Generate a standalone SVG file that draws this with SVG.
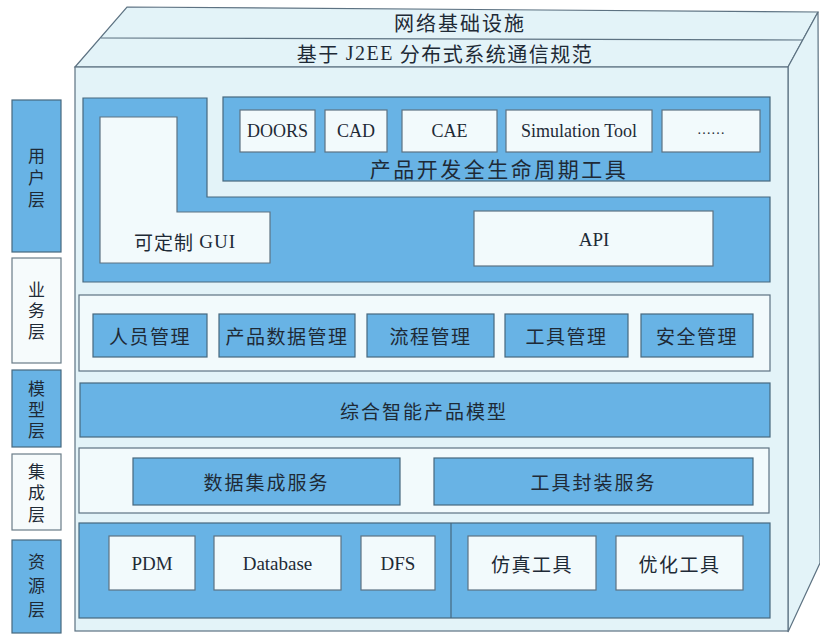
<svg xmlns="http://www.w3.org/2000/svg" width="820" height="635" viewBox="0 0 820 635">
<style>
.bg{fill:#ffffff}
.face{fill:#e3f3f8;stroke:#5d7282;stroke-width:1.2}
.blue{fill:#68b3e5;stroke:#46687e;stroke-width:1.2}
.white{fill:#f2fafc;stroke:#5d7282;stroke-width:1.2}
.lbw{fill:#f6fbfc;stroke:#6a7c88;stroke-width:1.2}
.t{font-family:"Liberation Serif","Noto Sans CJK SC",serif;fill:#1e2a36;text-anchor:middle;dominant-baseline:central}
.c{font-family:"Noto Sans CJK SC","Liberation Serif",serif;fill:#1e2a36;text-anchor:middle;dominant-baseline:central}
.v{font-family:"Noto Sans CJK SC",serif;fill:#1e2a36;text-anchor:middle;writing-mode:vertical-rl;font-size:17px}
.s{font-family:"Liberation Serif",serif}
</style>
<rect class="bg" x="0" y="0" width="820" height="635"/>

<g id="box3d">
  <polygon class="face" points="127,7 818,12 788,67 75,67"/>
  <line x1="101" y1="38" x2="803" y2="40" stroke="#5d7282" stroke-width="1.2"/>
  <polygon class="face" points="788,67 818,12 820,563 788,632"/>
  <rect class="face" x="75" y="67" width="713" height="564"/>
  <text class="c" x="460" y="22" font-size="20" letter-spacing="2">网络基础设施</text>
  <text class="c" x="445" y="53" font-size="20" letter-spacing="1.5">基于 <tspan class="s">J2EE</tspan> 分布式系统通信规范</text>
</g>

<g id="labels">
  <rect class="blue" x="12" y="100" width="49" height="152"/>
  <text class="v" x="36.5" y="180" letter-spacing="5">用户层</text>
  <rect class="lbw" x="12" y="258" width="49" height="105"/>
  <text class="v" x="36.5" y="313" letter-spacing="4">业务层</text>
  <rect class="blue" x="12" y="370" width="49" height="77"/>
  <text class="v" x="36.5" y="412" letter-spacing="4">模型层</text>
  <rect class="lbw" x="12" y="454" width="49" height="76"/>
  <text class="v" x="36.5" y="495" letter-spacing="4.5">集成层</text>
  <rect class="blue" x="12" y="540" width="49" height="93"/>
  <text class="v" x="36.5" y="589" letter-spacing="7">资源层</text>
</g>

<g id="user-layer">
  <polygon class="blue" points="83,98 207,98 207,197 770,197 770,282 83,282"/>
  <polygon class="white" points="100,117 177,117 177,212 270,212 270,263 100,263"/>
  <text class="c" x="185" y="241" font-size="19" letter-spacing="1">可定制 <tspan class="s">GUI</tspan></text>
  <rect class="white" x="474" y="211" width="239" height="55"/>
  <text class="t" x="594" y="239" font-size="19">API</text>
</g>

<g id="tools">
  <rect class="blue" x="223" y="97" width="547" height="84"/>
  <rect class="white" x="240" y="110" width="75" height="42"/>
  <text class="t" x="277.5" y="131" font-size="18">DOORS</text>
  <rect class="white" x="325" y="110" width="62" height="42"/>
  <text class="t" x="356" y="131" font-size="18">CAD</text>
  <rect class="white" x="402" y="110" width="95" height="42"/>
  <text class="t" x="449.5" y="131" font-size="18">CAE</text>
  <rect class="white" x="506" y="110" width="146" height="42"/>
  <text class="t" x="579" y="131" font-size="18">Simulation Tool</text>
  <rect class="white" x="662" y="110" width="98" height="42"/>
  <text class="t" x="711" y="129" font-size="14">……</text>
  <text class="c" x="499" y="168" font-size="21" letter-spacing="2.5">产品开发全生命周期工具</text>
</g>

<g id="business-layer">
  <rect class="white" x="79" y="295" width="691" height="76"/>
  <rect class="blue" x="93" y="314" width="114" height="43"/>
  <text class="c" x="150" y="335.5" font-size="19" letter-spacing="1.5">人员管理</text>
  <rect class="blue" x="219" y="314" width="136" height="43"/>
  <text class="c" x="287" y="335.5" font-size="19" letter-spacing="1.5">产品数据管理</text>
  <rect class="blue" x="367" y="314" width="127" height="43"/>
  <text class="c" x="430.5" y="335.5" font-size="19" letter-spacing="1.5">流程管理</text>
  <rect class="blue" x="505" y="314" width="123" height="43"/>
  <text class="c" x="566.5" y="335.5" font-size="19" letter-spacing="1.5">工具管理</text>
  <rect class="blue" x="641" y="314" width="112" height="43"/>
  <text class="c" x="697" y="335.5" font-size="19" letter-spacing="1.5">安全管理</text>
</g>

<g id="model-layer">
  <rect class="blue" x="80" y="383" width="690" height="54"/>
  <text class="c" x="424" y="410" font-size="19" letter-spacing="2">综合智能产品模型</text>
</g>

<g id="integration-layer">
  <rect class="white" x="79" y="448" width="690" height="65"/>
  <rect class="blue" x="133" y="458" width="267" height="47"/>
  <text class="c" x="266.5" y="481.5" font-size="19" letter-spacing="2">数据集成服务</text>
  <rect class="blue" x="434" y="458" width="319" height="47"/>
  <text class="c" x="593.5" y="481.5" font-size="19" letter-spacing="2">工具封装服务</text>
</g>

<g id="resource-layer">
  <rect class="blue" x="79" y="523" width="691" height="95"/>
  <line x1="451" y1="523" x2="451" y2="618" stroke="#46687e" stroke-width="1.2"/>
  <rect class="white" x="109" y="536" width="86" height="54"/>
  <text class="t" x="152" y="563" font-size="19">PDM</text>
  <rect class="white" x="214" y="536" width="127" height="54"/>
  <text class="t" x="277.5" y="563" font-size="19">Database</text>
  <rect class="white" x="361" y="536" width="74" height="54"/>
  <text class="t" x="398" y="563" font-size="19">DFS</text>
  <rect class="white" x="468" y="536" width="128" height="54"/>
  <text class="c" x="532" y="563" font-size="19" letter-spacing="1.5">仿真工具</text>
  <rect class="white" x="616" y="536" width="127" height="54"/>
  <text class="c" x="679.5" y="563" font-size="19" letter-spacing="1.5">优化工具</text>
</g>
</svg>
